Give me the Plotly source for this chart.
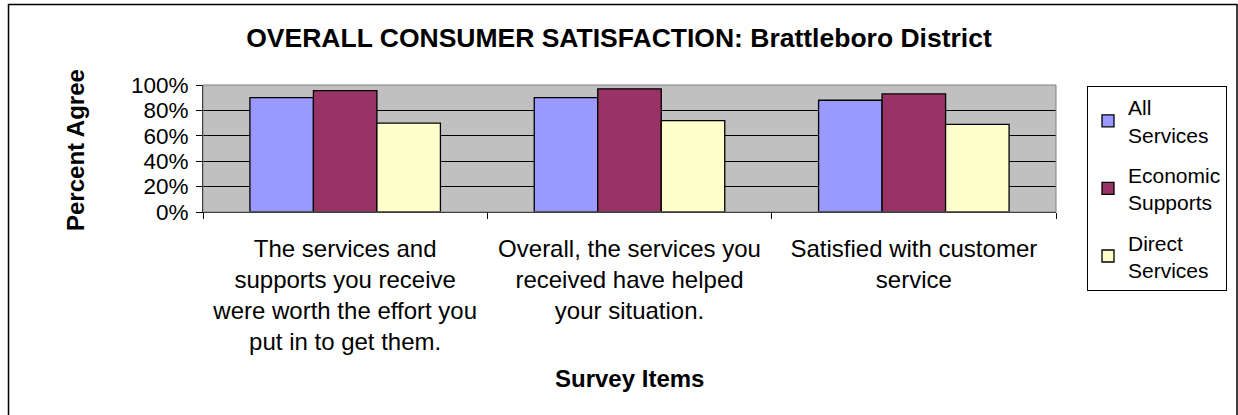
import plotly.graph_objects as go

categories = [
    "The services and<br>supports you receive<br>were worth the effort you<br>put in to get them.",
    "Overall, the services you<br>received have helped<br>your situation.",
    "Satisfied with customer<br>service",
]
series_names = ["All<br>Services", "Economic<br>Supports", "Direct<br>Services"]
all_services = [0.90, 0.90, 0.88]
economic_supports = [0.955, 0.97, 0.93]
direct_services = [0.70, 0.72, 0.69]
colors = ["#9999FF", "#993366", "#FFFFCC"]
y_ticks = [0, 0.2, 0.4, 0.6, 0.8, 1.0]

FONT = "Liberation Sans, Arial, sans-serif"

W, H = 1238, 415
L, R, T, B = 203, 1056, 85, 212  # plot area pixels


def px_x(px):
    return (px - L) / (R - L)


def px_y(py):
    return (B - py) / (B - T)


fig = go.Figure()
for name, vals, col in zip(series_names, [all_services, economic_supports, direct_services], colors):
    fig.add_trace(go.Bar(
        x=categories, y=vals, name=name,
        marker=dict(color=col, line=dict(color="black", width=1.3)),
        legendgroup=name,
    ))

fig.update_layout(
    width=W, height=H,
    margin=dict(l=L, r=W - R, t=T, b=H - B, autoexpand=False),
    paper_bgcolor="white",
    plot_bgcolor="#C0C0C0",
    barmode="group",
    bargap=0.33,
    bargroupgap=0,
    font=dict(family=FONT, size=20, color="black"),
    title=dict(
        text="<b>OVERALL CONSUMER SATISFACTION: Brattleboro District</b>",
        x=0.5, xref="container", xanchor="center",
        y=1 - 38 / H, yref="container", yanchor="middle",
        font=dict(family=FONT, size=26.5, color="black"),
    ),
    showlegend=True,
    legend=dict(
        x=px_x(1087), y=px_y(86), xanchor="left", yanchor="top",
        bgcolor="white", bordercolor="black", borderwidth=1,
        font=dict(family=FONT, size=21, color="black"),
        traceorder="grouped", tracegroupgap=10,
        maxheight=400,
    ),
    xaxis=dict(
        showline=True, linecolor="black", linewidth=1,
        ticks="outside", ticklen=6, tickcolor="black",
        tickson="boundaries",
        showgrid=False,
        ticklabelstandoff=15,
        tickfont=dict(family=FONT, size=24, color="black"),
    ),
    yaxis=dict(
        range=[0, 1], tickvals=y_ticks, tickformat=".0%",
        showline=True, linecolor="black", linewidth=1,
        ticks="outside", ticklen=6, tickcolor="black",
        showgrid=True, gridcolor="black", gridwidth=1,
        zeroline=False,
        ticklabelstandoff=3,
        tickfont=dict(family=FONT, size=22.5, color="black"),
    ),
    annotations=[
        dict(text="<b>Percent Agree</b>", textangle=-90,
             x=px_x(75), y=px_y(150), xref="paper", yref="paper",
             xanchor="center", yanchor="middle", showarrow=False,
             font=dict(family=FONT, size=24, color="black")),
        dict(text="<b>Survey Items</b>",
             x=0.5, y=px_y(378), xref="paper", yref="paper",
             xanchor="center", yanchor="middle", showarrow=False,
             font=dict(family=FONT, size=24, color="black")),
    ],
    shapes=[
        dict(type="rect", xref="paper", yref="paper",
             x0=0, x1=1, y0=0, y1=1,
             line=dict(color="#808080", width=1), layer="above"),
        dict(type="rect", xref="paper", yref="paper",
             x0=px_x(8.5), x1=px_x(1237), y0=px_y(430), y1=px_y(4.5),
             line=dict(color="black", width=1.5), layer="above"),
    ],
)

fig.write_html("out.html")
